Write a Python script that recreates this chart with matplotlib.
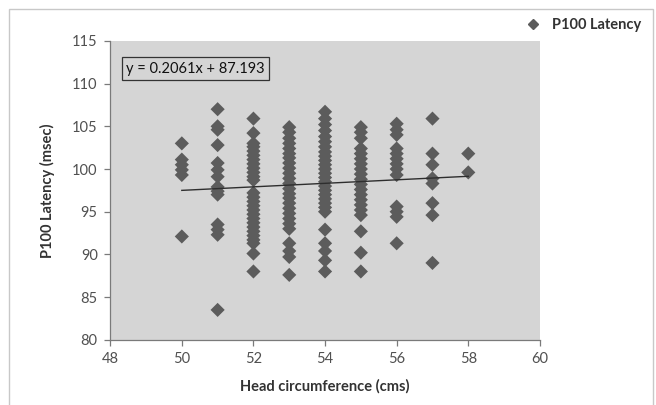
import matplotlib.pyplot as plt
from matplotlib.lines import Line2D

# Data: head circumference (cms) -> P100 latency values
lat_50 = [103.0, 101.1, 100.5, 99.9, 99.3, 92.1]
lat_51 = [107.0, 105.0, 104.6, 102.8, 100.7, 99.9, 99.1, 97.9, 97.4, 97.0,
          93.5, 92.9, 92.3, 83.5]
lat_52 = [105.9, 104.2, 103.0, 102.6, 102.1, 101.6, 101.1, 100.6, 100.1, 99.6,
          99.1, 98.7, 97.2, 96.7, 96.2, 95.7, 95.2, 94.7, 94.2, 93.7, 93.2,
          92.7, 92.2, 91.7, 91.3, 90.1, 88.0]
lat_53 = [104.9, 104.3, 103.6, 103.0, 102.4, 101.8, 101.3, 100.7, 100.1, 99.5,
          98.9, 98.3, 97.7, 97.1, 96.6, 96.0, 95.4, 94.8, 94.2, 93.6, 93.0,
          91.3, 90.4, 89.7, 87.6]
lat_54 = [106.7, 105.9, 105.2, 104.5, 103.8, 103.2, 102.6, 102.0, 101.5, 101.0,
          100.5, 100.0, 99.5, 99.0, 98.5, 98.0, 97.5, 97.0, 96.5, 96.0, 95.5,
          95.0, 92.9, 91.3, 90.4, 89.3, 88.0]
lat_55 = [104.9, 104.3, 103.6, 102.4, 101.8, 101.2, 100.6, 100.0, 99.4, 98.8,
          98.2, 97.6, 97.0, 96.4, 95.8, 95.2, 94.6, 92.7, 90.2, 88.0]
lat_56 = [105.3, 104.6, 104.0, 102.4, 101.8, 101.2, 100.6, 100.0, 99.3, 95.6,
          95.0, 94.4, 91.3]
lat_57 = [105.9, 101.8, 100.5, 98.9, 98.3, 96.0, 94.6, 89.0]
lat_58 = [101.8, 99.6]

head_sizes = [50, 51, 52, 53, 54, 55, 56, 57, 58]
latencies = [lat_50, lat_51, lat_52, lat_53, lat_54, lat_55, lat_56, lat_57, lat_58]

# Trendline from the chart label
slope = 0.2061
intercept = 87.193

x_ticks = [48, 50, 52, 54, 56, 58, 60]
y_ticks = [80, 85, 90, 95, 100, 105, 110, 115]

plt.rcParams['font.family'] = ['Lato', 'DejaVu Sans']

fig = plt.figure(figsize=(6.56, 4.05), dpi=100)
ax = fig.add_axes([0.168, 0.161, 0.655, 0.738])
ax.set_facecolor("#d5d5d5")

xs = []
ys = []
for h, vals in zip(head_sizes, latencies):
    xs += [h] * len(vals)
    ys += vals

ax.scatter(xs, ys, marker="D", s=52, color="#5c5c5c", edgecolors="none", zorder=3)

# Trendline
x0, x1 = min(xs), max(xs)
ax.plot([x0, x1], [slope * x0 + intercept, slope * x1 + intercept],
        color="#2e2e2e", linewidth=1.0, zorder=4)

ax.text(48.45, 111.75, "y = 0.2061x + 87.193", fontsize=10.5, color="#111111",
        va="center", ha="left", zorder=5,
        bbox=dict(boxstyle="square,pad=0.3", facecolor="#d5d5d5",
                  edgecolor="#333333", linewidth=0.9))

ax.set_xlim(48, 60)
ax.set_ylim(80, 115)
ax.set_xticks(x_ticks)
ax.set_yticks(y_ticks)

for s in ["top", "right"]:
    ax.spines[s].set_visible(False)
for s in ["left", "bottom"]:
    ax.spines[s].set_color("#7a7a7a")
    ax.spines[s].set_linewidth(0.9)
ax.tick_params(direction="out", length=4, width=0.9, color="#7a7a7a",
               labelsize=10.5, labelcolor="#505050", pad=5)

ax.set_xlabel("Head circumference (cms)", fontsize=10.5, fontweight="bold",
              color="#333333", labelpad=9)
ax.set_ylabel("P100 Latency (msec)", fontsize=10.5, fontweight="bold",
              color="#333333", labelpad=12)

# Legend outside the plot area
handle = Line2D([], [], marker="D", linestyle="none", markersize=5,
                color="#5c5c5c")
fig.legend([handle], ["P100 Latency"], loc="center left",
           bbox_to_anchor=(0.77, 0.938), frameon=False, handletextpad=0.3,
           prop={"weight": "bold", "size": 10.5}, labelcolor="#333333")

# Light outer frame of the chart
frame = plt.Rectangle((0.014, -0.02), 0.982, 0.999, transform=fig.transFigure,
                      fill=False, edgecolor="#c8c8c8", linewidth=1.0)
fig.patches.append(frame)

fig.savefig("out.png", dpi=100)
